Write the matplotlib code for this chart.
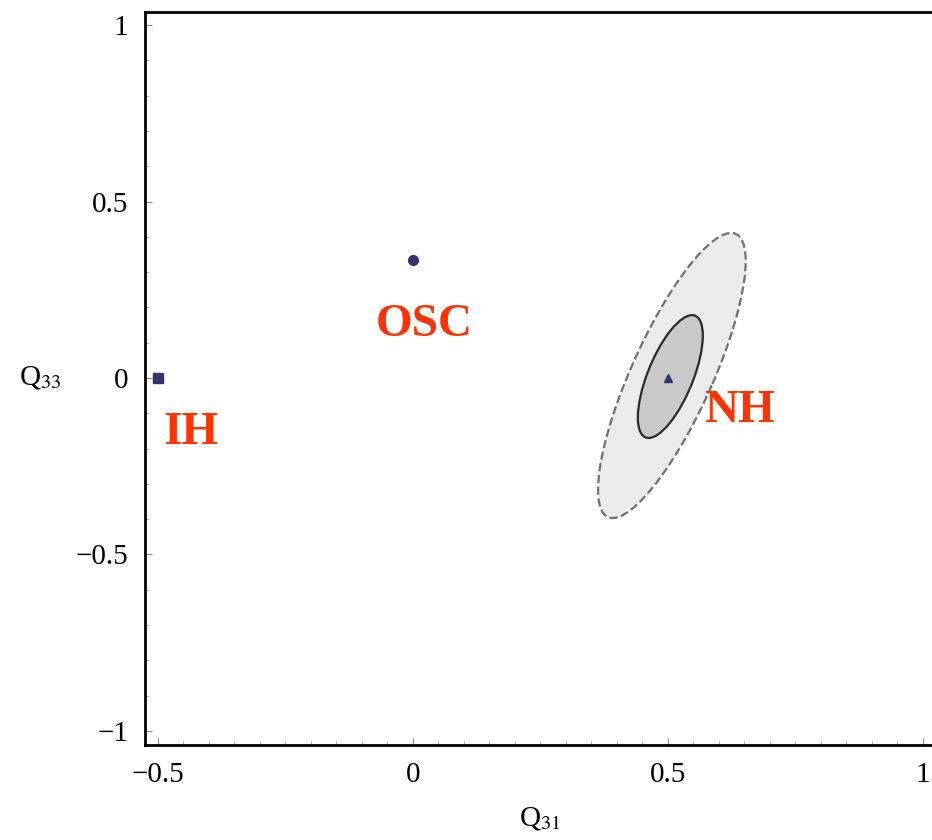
import matplotlib
matplotlib.use("Agg")
import matplotlib.pyplot as plt
from matplotlib.patches import Ellipse
from matplotlib.ticker import MultipleLocator

# ---- data ----
point_names = ["IH", "OSC", "NH"]
point_q31 = [-0.5, 0.0, 0.5]
point_q33 = [0.0, 0.333, 0.0]
point_markers = ["s", "o", "^"]

label_q31 = [-0.435, 0.022, 0.641]
label_q33 = [-0.156, 0.15, -0.093]

# NH confidence regions: (center x, center y, semi-major, semi-minor, angle deg)
ell_cx = [0.508, 0.505]
ell_cy = [0.007, 0.004]
ell_a = [0.421, 0.1795]
ell_b = [0.083, 0.046]
ell_angle = [73.3, 75.3]
ell_fill = ["#ebebeb", "#c9c9c9"]
ell_edge = ["#707070", "#2a2a2a"]
ell_style = ["--", "-"]

x_ticks = [-0.5, 0, 0.5, 1]
y_ticks = [-1, -0.5, 0, 0.5, 1]
x_ticklabels = ["\u22120.5", "0", "0.5", "1"]
y_ticklabels = ["\u22121", "\u22120.5", "0", "0.5", "1"]

plt.rcParams["font.family"] = ["Liberation Serif", "DejaVu Serif"]
plt.rcParams["mathtext.fontset"] = "stix"

fig = plt.figure(figsize=(9.32, 8.4), dpi=100)
ax = fig.add_axes([145/932, 95/840, 788/932, 733/840])
ax.set_xlim(-0.525, 1.02)
ax.set_ylim(-1.04, 1.037)

for cx, cy, a, b, ang, fc, ec, ls in zip(ell_cx, ell_cy, ell_a, ell_b, ell_angle,
                                        ell_fill, ell_edge, ell_style):
    e = Ellipse((cx, cy), 2*a, 2*b, angle=ang, facecolor=fc, edgecolor=ec,
                linestyle=ls, linewidth=1.6, zorder=2)
    ax.add_patch(e)

msizes = [7, 7, 5.5]
for x, y, m, ms in zip(point_q31, point_q33, point_markers, msizes):
    ax.plot([x], [y], marker=m, markersize=ms, color="#33336e", linestyle="none", zorder=4)

for name, x, y in zip(point_names, label_q31, label_q33):
    ax.text(x, y, name, color="#ff3300", fontsize=34, fontweight="bold",
            ha="center", va="center", zorder=5)

ax.set_xticks(x_ticks)
ax.set_xticklabels(x_ticklabels)
ax.set_yticks(y_ticks)
ax.set_yticklabels(y_ticklabels)
ax.xaxis.set_minor_locator(MultipleLocator(0.05))
ax.yaxis.set_minor_locator(MultipleLocator(0.1))
ax.tick_params(which="major", direction="in", length=5, width=0.8, color="#888888",
               labelsize=21, pad=12, top=False, right=False)
ax.tick_params(which="minor", direction="in", length=3, width=0.6, color="#aaaaaa",
               top=False, right=False)

for s in ["left", "bottom", "top"]:
    ax.spines[s].set_linewidth(2.0)
    ax.spines[s].set_color("black")
ax.spines["right"].set_visible(False)

fig.text(40/932, 1 - 378/840, "Q$_{33}$", fontsize=21, ha="center", va="center")
fig.text(540/932, 1 - 818/840, "Q$_{31}$", fontsize=21, ha="center", va="center")

fig.savefig("out.png", dpi=100)
